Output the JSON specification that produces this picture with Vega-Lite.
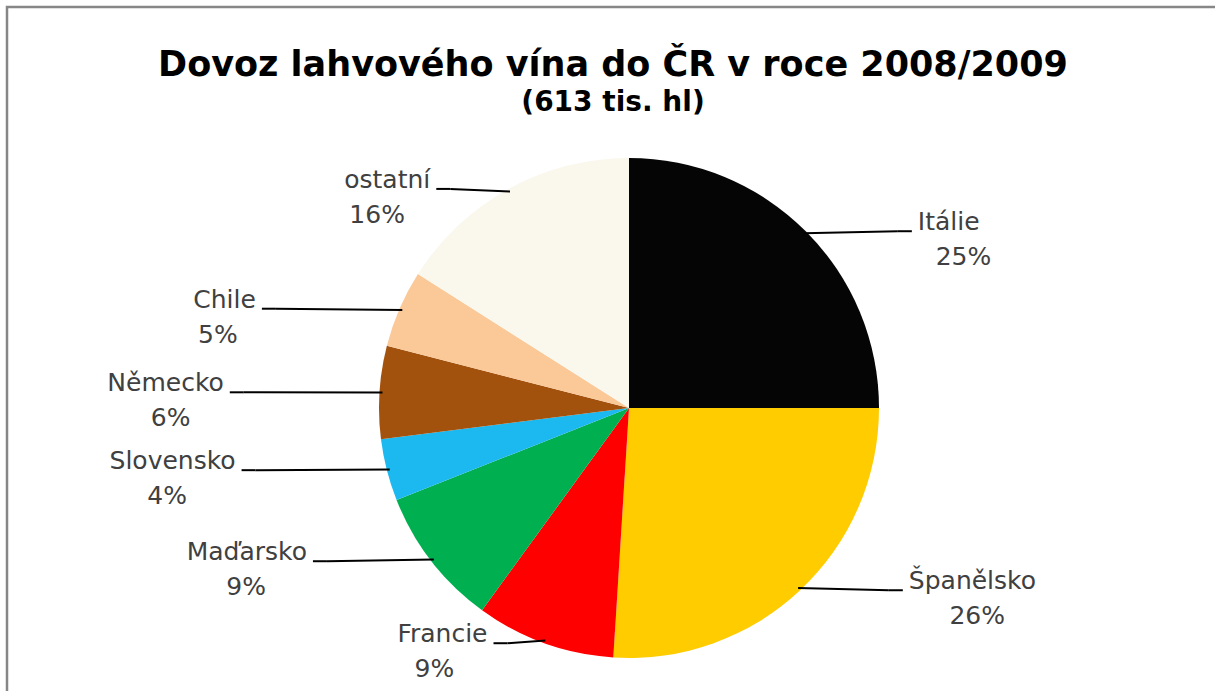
{
  "$schema": "https://vega.github.io/schema/vega-lite/v6.json",
  "width": 1244,
  "height": 802,
  "autosize": {"type": "none"},
  "padding": {"left": 7, "top": 7, "right": -36, "bottom": -118},
  "background": "white",
  "config": {"view": {"stroke": "#878787", "strokeWidth": 2.5}, "font": "DejaVu Sans"},
  "title": {
    "text": "Dovoz lahvového vína do ČR v roce 2008/2009",
    "subtitle": "(613 tis. hl)",
    "anchor": "middle",
    "dx": -16,
    "offset": -110,
    "font": "DejaVu Sans",
    "fontSize": 35,
    "fontWeight": "bold",
    "color": "#000000",
    "subtitleFont": "DejaVu Sans",
    "subtitleFontSize": 28,
    "subtitleFontWeight": "bold",
    "subtitleColor": "#000000",
    "subtitlePadding": 6
  },
  "data": {
    "values": [
      {"country": "Itálie", "share": 25, "order": 1},
      {"country": "Španělsko", "share": 26, "order": 2},
      {"country": "Francie", "share": 9, "order": 3},
      {"country": "Maďarsko", "share": 9, "order": 4},
      {"country": "Slovensko", "share": 4, "order": 5},
      {"country": "Německo", "share": 6, "order": 6},
      {"country": "Chile", "share": 5, "order": 7},
      {"country": "ostatní", "share": 16, "order": 8}
    ]
  },
  "transform": [
    {"stack": "share", "groupby": [], "sort": [{"field": "order"}], "as": ["v0", "v1"]},
    {"calculate": "PI*(datum.v0+datum.v1)/100", "as": "ang"},
    {"calculate": "datum.ang < PI ? 1 : -1", "as": "side"},
    {"calculate": "247*sin(datum.ang)", "as": "ex"},
    {"calculate": "247*cos(datum.ang)", "as": "ey"},
    {"calculate": "400*sin(datum.ang)", "as": "ax"},
    {"calculate": "250*cos(datum.ang)", "as": "ay"},
    {"calculate": "datum.ax - datum.side*14", "as": "bx"},
    {"calculate": "datum.ax + datum.side*6", "as": "nx"},
    {"calculate": "datum.ax + datum.side*(6 + 7.6*length(datum.country))", "as": "px"},
    {"calculate": "datum.ay + 9", "as": "ny"},
    {"calculate": "datum.ay - 26", "as": "py"},
    {"calculate": "datum.share + '%'", "as": "pct"}
  ],
  "layer": [
    {
      "mark": {"type": "arc", "outerRadius": 250},
      "encoding": {
        "theta": {"field": "v0", "type": "quantitative", "stack": null, "scale": {"domain": [0, 100]}},
        "theta2": {"field": "v1"},
        "color": {
          "field": "country",
          "type": "nominal",
          "legend": null,
          "scale": {
            "domain": ["Itálie", "Španělsko", "Francie", "Maďarsko", "Slovensko", "Německo", "Chile", "ostatní"],
            "range": ["#050505", "#FFCC00", "#FF0000", "#00B050", "#1CB8F0", "#A3520E", "#FBC898", "#FAF7EC"]
          }
        }
      }
    },
    {
      "mark": {"type": "rule", "color": "#000000", "strokeWidth": 2},
      "encoding": {
        "x": {"field": "ex", "type": "quantitative", "axis": null, "scale": {"domain": [-622, 622], "nice": false, "zero": false}},
        "y": {"field": "ey", "type": "quantitative", "axis": null, "scale": {"domain": [-401, 401], "nice": false, "zero": false}},
        "x2": {"field": "bx"},
        "y2": {"field": "ay"}
      }
    },
    {
      "mark": {"type": "rule", "color": "#000000", "strokeWidth": 2},
      "encoding": {
        "x": {"field": "bx", "type": "quantitative", "axis": null, "scale": {"domain": [-622, 622], "nice": false, "zero": false}},
        "y": {"field": "ay", "type": "quantitative", "axis": null, "scale": {"domain": [-401, 401], "nice": false, "zero": false}},
        "x2": {"field": "ax"},
        "y2": {"field": "ay"}
      }
    },
    {
      "mark": {"type": "text", "font": "DejaVu Sans", "fontSize": 25, "color": "#404040", "baseline": "middle", "align": {"expr": "datum.side > 0 ? 'left' : 'right'"}},
      "encoding": {
        "x": {"field": "nx", "type": "quantitative", "axis": null, "scale": {"domain": [-622, 622], "nice": false, "zero": false}},
        "y": {"field": "ny", "type": "quantitative", "axis": null, "scale": {"domain": [-401, 401], "nice": false, "zero": false}},
        "text": {"field": "country"}
      }
    },
    {
      "mark": {"type": "text", "font": "DejaVu Sans", "fontSize": 25, "color": "#404040", "baseline": "middle", "align": "center"},
      "encoding": {
        "x": {"field": "px", "type": "quantitative", "axis": null, "scale": {"domain": [-622, 622], "nice": false, "zero": false}},
        "y": {"field": "py", "type": "quantitative", "axis": null, "scale": {"domain": [-401, 401], "nice": false, "zero": false}},
        "text": {"field": "pct"}
      }
    }
  ]
}
